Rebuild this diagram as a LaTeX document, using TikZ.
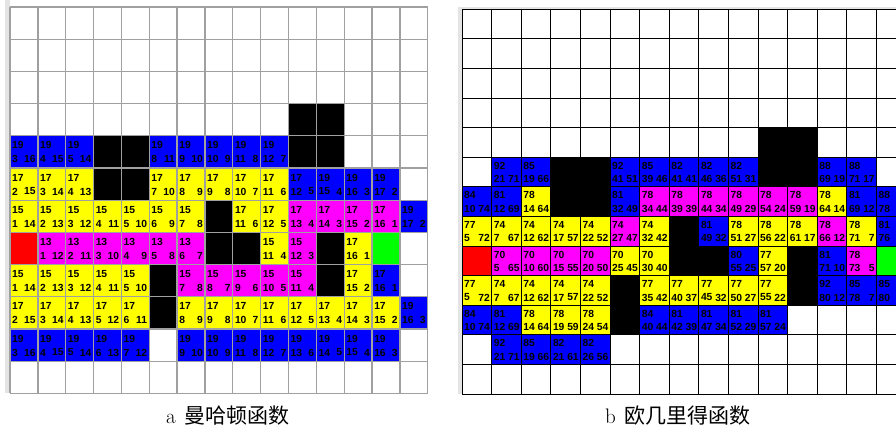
\documentclass[tikz,border=0pt]{standalone}
\usepackage{fontspec}
\newfontfamily\cellfont{Liberation Sans}
\newfontfamily\cjk{Noto Sans CJK SC}
\definecolor{cB}{RGB}{0,0,255}
\definecolor{cY}{RGB}{255,255,0}
\definecolor{cM}{RGB}{255,0,255}
\definecolor{cR}{RGB}{255,0,0}
\definecolor{cG}{RGB}{0,255,0}
\definecolor{cK}{RGB}{0,0,0}
\definecolor{gridL}{RGB}{160,160,160}
\definecolor{frameL}{RGB}{228,228,228}
\tikzset{
  lt/.style={anchor=west,inner sep=0pt,font=\cellfont\bfseries\fontsize{10.3}{11}\selectfont},
  rt/.style={anchor=east,inner sep=0pt,font=\cellfont\bfseries\fontsize{10.3}{11}\selectfont},
  caption/.style={inner sep=0pt,font=\fontsize{21}{24}\selectfont}
}
\def\LX{10}\def\LY{7}\def\LW{27.85}\def\LH{32.2}
\def\RX{462}\def\RY{9.3}\def\RW{29.6}\def\RH{29.6}
\begin{document}
\begin{tikzpicture}[x=1pt,y=-1pt]
\useasboundingbox (0,0) rectangle (896,430);
\fill[white] (0,0) rectangle (896,430);
% light frames
\fill[frameL] (5,0) rectangle (\LX,393.4);
\fill[frameL] (458,6.7) rectangle (896,\RY);
\fill[frameL] (458,6.7) rectangle (\RX,394);
% ---------------- left grid ----------------
\foreach \cc/\rr/\kk in {10/3/cK,11/3/cK,3/4/cK,4/4/cK,10/4/cK,11/4/cK,3/5/cK,4/5/cK,7/6/cK,7/7/cK,8/7/cK,11/7/cK,5/8/cK,11/8/cK,5/9/cK,0/7/cR,13/7/cG}
  \fill[\kk] ({\LX+\cc*\LW},{\LY+\rr*\LH}) rectangle ++(\LW,\LH);
\foreach \cc/\rr/\kk/\va/\vb/\vc in {
  0/4/cB/19/3/16,1/4/cB/19/4/15,2/4/cB/19/5/14,5/4/cB/19/8/11,6/4/cB/19/9/10,7/4/cB/19/10/9,8/4/cB/19/11/8,9/4/cB/19/12/7,
  0/5/cY/17/2/15,1/5/cY/17/3/14,2/5/cY/17/4/13,5/5/cY/17/7/10,6/5/cY/17/8/9,7/5/cY/17/9/8,8/5/cY/17/10/7,9/5/cY/17/11/6,10/5/cB/17/12/5,11/5/cB/19/15/4,12/5/cB/19/16/3,13/5/cB/19/17/2,
  0/6/cY/15/1/14,1/6/cY/15/2/13,2/6/cY/15/3/12,3/6/cY/15/4/11,4/6/cY/15/5/10,5/6/cY/15/6/9,6/6/cY/15/7/8,8/6/cY/17/11/6,9/6/cY/17/12/5,10/6/cM/17/13/4,11/6/cM/17/14/3,12/6/cM/17/15/2,13/6/cM/17/16/1,14/6/cB/19/17/2,
  1/7/cM/13/1/12,2/7/cM/13/2/11,3/7/cM/13/3/10,4/7/cM/13/4/9,5/7/cM/13/5/8,6/7/cM/13/6/7,9/7/cY/15/11/4,10/7/cM/15/12/3,12/7/cY/17/16/1,
  0/8/cY/15/1/14,1/8/cY/15/2/13,2/8/cY/15/3/12,3/8/cY/15/4/11,4/8/cY/15/5/10,6/8/cM/15/7/8,7/8/cM/15/8/7,8/8/cM/15/9/6,9/8/cM/15/10/5,10/8/cM/15/11/4,12/8/cY/17/15/2,13/8/cB/17/16/1,
  0/9/cY/17/2/15,1/9/cY/17/3/14,2/9/cY/17/4/13,3/9/cY/17/5/12,4/9/cY/17/6/11,6/9/cY/17/8/9,7/9/cY/17/9/8,8/9/cY/17/10/7,9/9/cY/17/11/6,10/9/cY/17/12/5,11/9/cY/17/13/4,12/9/cY/17/14/3,13/9/cY/17/15/2,14/9/cB/19/16/3,
  0/10/cB/19/3/16,1/10/cB/19/4/15,2/10/cB/19/5/14,3/10/cB/19/6/13,4/10/cB/19/7/12,6/10/cB/19/9/10,7/10/cB/19/10/9,8/10/cB/19/11/8,9/10/cB/19/12/7,10/10/cB/19/13/6,11/10/cB/19/14/5,12/10/cB/19/15/4,13/10/cB/19/16/3}
{
  \fill[\kk] ({\LX+\cc*\LW},{\LY+\rr*\LH}) rectangle ++(\LW,\LH);
  \node[lt] at ({\LX+\cc*\LW+2},{\LY+\rr*\LH+9.5}) {\va};
  \node[lt] at ({\LX+\cc*\LW+2},{\LY+\rr*\LH+23.5}) {\vb};
  \node[rt] at ({\LX+(\cc+1)*\LW-2},{\LY+\rr*\LH+23.5}) {\vc};
}
\foreach \i in {0,...,15}
  \draw[gridL,line width=1.3pt] ({\LX+\i*\LW},\LY) -- ({\LX+\i*\LW},{\LY+12*\LH});
\foreach \j in {0,...,12}
  \draw[gridL,line width=1.3pt] (\LX,{\LY+\j*\LH}) -- ({\LX+15*\LW},{\LY+\j*\LH});
% ---------------- right grid ----------------
\begin{scope}
\clip (\RX-1,\RY-1) rectangle (896,{\RY+13*\RH+1});
\foreach \cc/\rr/\kk in {10/4/cK,11/4/cK,3/5/cK,4/5/cK,10/5/cK,11/5/cK,3/6/cK,4/6/cK,7/7/cK,7/8/cK,8/8/cK,11/8/cK,5/9/cK,11/9/cK,5/10/cK,0/8/cR,14/8/cG}
  \fill[\kk] ({\RX+\cc*\RW},{\RY+\rr*\RH}) rectangle ++(\RW,\RH);
\foreach \cc/\rr/\kk/\va/\vb/\vc in {
  1/5/cB/92/21/71,2/5/cB/85/19/66,5/5/cB/92/41/51,6/5/cB/85/39/46,7/5/cB/82/41/41,8/5/cB/82/46/36,9/5/cB/82/51/31,12/5/cB/88/69/19,13/5/cB/88/71/17,
  0/6/cB/84/10/74,1/6/cB/81/12/69,2/6/cY/78/14/64,5/6/cB/81/32/49,6/6/cM/78/34/44,7/6/cM/78/39/39,8/6/cM/78/44/34,9/6/cM/78/49/29,10/6/cM/78/54/24,11/6/cM/78/59/19,12/6/cY/78/64/14,13/6/cB/81/69/12,
  0/7/cY/77/5/72,1/7/cY/74/7/67,2/7/cY/74/12/62,3/7/cY/74/17/57,4/7/cY/74/22/52,5/7/cM/74/27/47,6/7/cY/74/32/42,8/7/cB/81/49/32,9/7/cY/78/51/27,10/7/cY/78/56/22,11/7/cY/78/61/17,12/7/cM/78/66/12,13/7/cY/78/71/7,
  1/8/cM/70/5/65,2/8/cM/70/10/60,3/8/cM/70/15/55,4/8/cM/70/20/50,5/8/cY/70/25/45,6/8/cY/70/30/40,9/8/cB/80/55/25,10/8/cY/77/57/20,12/8/cB/81/71/10,13/8/cM/78/73/5,
  0/9/cY/77/5/72,1/9/cY/74/7/67,2/9/cY/74/12/62,3/9/cY/74/17/57,4/9/cY/74/22/52,6/9/cY/77/35/42,7/9/cY/77/40/37,8/9/cY/77/45/32,9/9/cY/77/50/27,10/9/cY/77/55/22,12/9/cB/92/80/12,13/9/cB/85/78/7,
  0/10/cB/84/10/74,1/10/cB/81/12/69,2/10/cY/78/14/64,3/10/cY/78/19/59,4/10/cY/78/24/54,6/10/cB/84/40/44,7/10/cB/81/42/39,8/10/cB/81/47/34,9/10/cB/81/52/29,10/10/cB/81/57/24,
  1/11/cB/92/21/71,2/11/cB/85/19/66,3/11/cB/82/21/61,4/11/cB/82/26/56}
{
  \fill[\kk] ({\RX+\cc*\RW},{\RY+\rr*\RH}) rectangle ++(\RW,\RH);
  \node[lt] at ({\RX+\cc*\RW+2},{\RY+\rr*\RH+8.5}) {\va};
  \node[lt] at ({\RX+\cc*\RW+2},{\RY+\rr*\RH+21.8}) {\vb};
  \node[rt] at ({\RX+(\cc+1)*\RW-1.5},{\RY+\rr*\RH+21.8}) {\vc};
}
% partial cells at the right edge: only the visible part of their texts
\foreach \rr/\va/\vb in {6/88/78,7/81/76,9/85/80}
{
  \fill[cB] ({\RX+14*\RW},{\RY+\rr*\RH}) rectangle ++(\RW,\RH);
  \node[lt] at ({\RX+14*\RW+2},{\RY+\rr*\RH+8.5}) {\va};
  \node[lt] at ({\RX+14*\RW+2},{\RY+\rr*\RH+21.8}) {\vb};
}
\foreach \i in {0,...,15}
  \draw[black,line width=1pt] ({\RX+\i*\RW},\RY) -- ({\RX+\i*\RW},{\RY+13*\RH});
\foreach \j in {0,...,13}
  \draw[black,line width=1pt] (\RX,{\RY+\j*\RH}) -- ({\RX+15*\RW},{\RY+\j*\RH});
\end{scope}
% ---------------- captions ----------------
\node[caption,anchor=west] (capa) at (166,416) {a\hspace{9pt}{\cjk 曼哈顿函数}};
\node[caption,anchor=west] (capb) at (605,416) {b\hspace{9pt}{\cjk 欧几里得函数}};
\end{tikzpicture}
\end{document}
